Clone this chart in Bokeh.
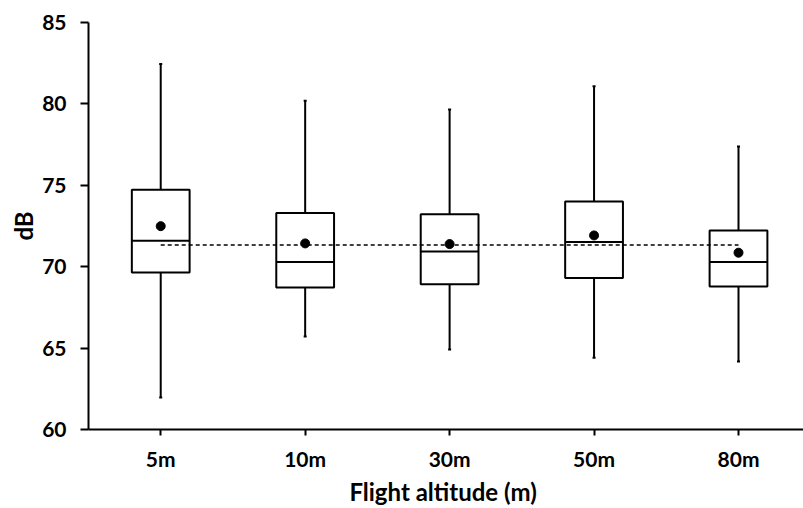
from bokeh.plotting import figure
from bokeh.models import Range1d, FixedTicker, ColumnDataSource
from bokeh.transform import dodge
from bokeh.embed import file_html
from bokeh.resources import INLINE

categories = ["5m", "10m", "30m", "50m", "80m"]
whisker_low = [61.97, 65.72, 64.91, 64.40, 64.18]
q1 = [69.64, 68.72, 68.92, 69.31, 68.78]
median = [71.60, 70.29, 70.94, 71.51, 70.29]
q3 = [74.73, 73.30, 73.22, 74.00, 72.22]
whisker_high = [82.45, 80.19, 79.66, 81.09, 77.38]
means = [72.49, 71.43, 71.39, 71.92, 70.86]
overall_mean = 71.33
y_ticks = [60, 65, 70, 75, 80, 85]

FONT = "Lato"
xpos = [i + 0.5 for i in range(len(categories))]

src = ColumnDataSource(dict(x=xpos, lo=whisker_low, q1=q1, med=median, q3=q3,
                            hi=whisker_high, mean=means))

p = figure(width=803, height=508, output_backend="svg", toolbar_location=None,
           x_range=Range1d(0, 4.95), y_range=Range1d(60, 85),
           min_border_left=88, min_border_right=0, min_border_top=22, min_border_bottom=60)
p.outline_line_color = None
p.grid.visible = False
p.background_fill_color = "white"

# whiskers
p.segment(x0="x", y0="q3", x1="x", y1="hi", source=src, line_color="black", line_width=2)
p.segment(x0="x", y0="q1", x1="x", y1="lo", source=src, line_color="black", line_width=2)
p.scatter(x="x", y="hi", source=src, marker="dash", size=3, line_color="black", line_width=2)
p.scatter(x="x", y="lo", source=src, marker="dash", size=3, line_color="black", line_width=2)

# boxes
p.vbar(x="x", width=0.4, bottom="q1", top="q3", source=src, fill_color="white",
       line_color="black", line_width=2)
p.segment(x0=dodge("x", -0.2), y0="med", x1=dodge("x", 0.2), y1="med", source=src,
          line_color="black", line_width=2)

# overall mean dashed line
p.segment(x0=[xpos[0]], y0=[overall_mean], x1=[xpos[-1]], y1=[overall_mean],
          line_color="black", line_width=1.5, line_dash="4 3")

# means
p.scatter(x="x", y="mean", source=src, marker="circle", size=9, fill_color="black",
          line_color="black")

# axes
p.xaxis.ticker = FixedTicker(ticks=xpos)
p.xaxis.major_label_overrides = {x: c for x, c in zip(xpos, categories)}
p.yaxis.ticker = FixedTicker(ticks=y_ticks)
for ax in (p.xaxis[0], p.yaxis[0]):
    ax.axis_line_width = 2
    ax.axis_line_color = "black"
    ax.major_tick_line_width = 2
    ax.major_tick_line_color = "black"
    ax.minor_tick_line_color = None
    ax.major_tick_in = 0
    ax.major_label_text_font = FONT
    ax.major_label_text_font_style = "bold"
    ax.major_label_text_font_size = "21px"
    ax.major_label_text_color = "black"
    ax.axis_label_text_font = FONT
    ax.axis_label_text_font_style = "bold"
    ax.axis_label_text_font_size = "24px"
    ax.axis_label_text_color = "black"
p.yaxis.major_tick_out = 8
p.xaxis.major_tick_out = 6
p.yaxis.major_label_standoff = 14
p.xaxis.major_label_standoff = 10
p.yaxis.axis_label = "dB"
p.xaxis.axis_label = "Flight  altitude (m)"
p.yaxis.axis_label_standoff = 1
p.xaxis.axis_label_standoff = 3

open("out.html", "w").write(file_html(p, INLINE))
